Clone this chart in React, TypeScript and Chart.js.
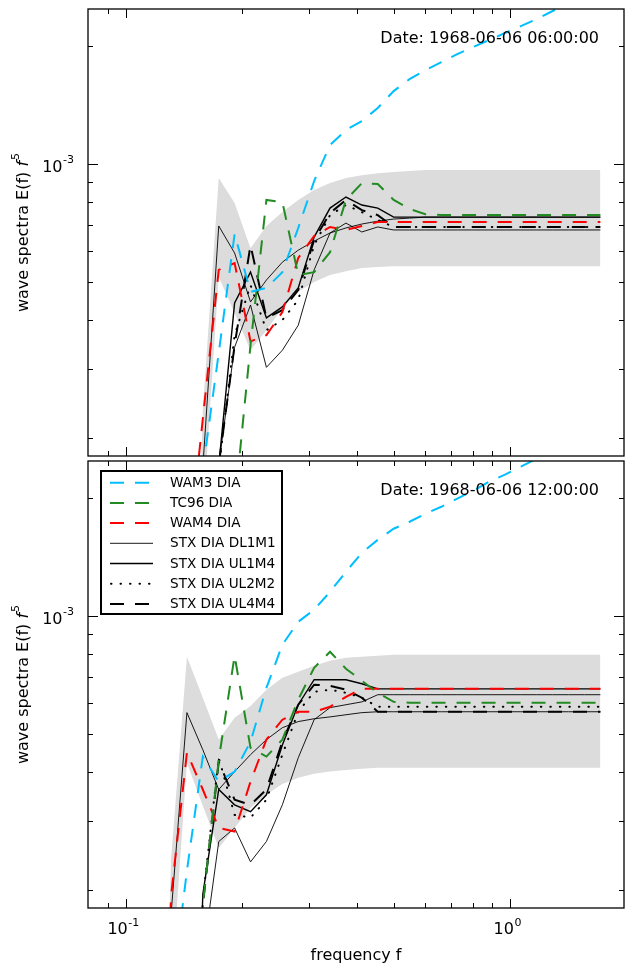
import React, { useEffect, useRef } from "react";
import { Chart, registerables } from "chart.js";

Chart.register(...registerables);

// All spectral values below are in units of 1e-3
const UNIT = 1e-3;

const frequencies = [0.1083, 0.1192, 0.1311, 0.1442, 0.1586, 0.1745, 0.1919, 0.2111, 0.2322, 0.2555,
  0.2810, 0.3091, 0.3400, 0.3740, 0.4114, 0.4526, 0.4978, 0.5476, 0.6024, 0.6626,
  0.7289, 0.8018, 0.8819, 0.9701, 1.0671, 1.1738, 1.2912, 1.4204, 1.5624, 1.7186];

// ---- 1968-06-06 06:00:00 ----
const wam3_06 = [0.01, 0.01, 0.01, 0.01, 0.166, 0.330, 0.663, 0.472, 0.483, 0.530, 0.687, 0.905, 1.118, 1.221, 1.287, 1.390, 1.535, 1.647, 1.737, 1.820, 1.908, 1.989, 2.072, 2.159, 2.249, 2.344, 2.457, 2.575, 2.698, 2.829];
const tc96_06 = [0.01, 0.01, 0.01, 0.01, 0.01, 0.01, 0.134, 0.345, 0.810, 0.800, 0.521, 0.530, 0.596, 0.810, 0.894, 0.889, 0.810, 0.768, 0.745, 0.741, 0.741, 0.741, 0.741, 0.741, 0.741, 0.741, 0.741, 0.741, 0.741, 0.741];
const wam4_06 = [0.01, 0.01, 0.01, 0.092, 0.224, 0.537, 0.559, 0.353, 0.366, 0.419, 0.576, 0.655, 0.691, 0.679, 0.695, 0.711, 0.711, 0.711, 0.711, 0.711, 0.711, 0.711, 0.711, 0.711, 0.711, 0.711, 0.711, 0.711, 0.711, 0.711];
const dl1m1_06 = [0.01, 0.01, 0.01, 0.01, 0.01, 0.171, 0.341, 0.437, 0.303, 0.335, 0.388, 0.537, 0.667, 0.707, 0.671, 0.691, 0.679, 0.679, 0.679, 0.679, 0.679, 0.679, 0.679, 0.679, 0.679, 0.679, 0.679, 0.679, 0.679, 0.679];
const ul1m4_06 = [0.01, 0.01, 0.01, 0.01, 0.01, 0.170, 0.442, 0.530, 0.405, 0.432, 0.483, 0.651, 0.772, 0.824, 0.786, 0.772, 0.732, 0.732, 0.732, 0.732, 0.732, 0.732, 0.732, 0.732, 0.732, 0.732, 0.732, 0.732, 0.732, 0.732];
const ul2m2_06 = [0.01, 0.01, 0.01, 0.01, 0.01, 0.166, 0.366, 0.491, 0.377, 0.400, 0.450, 0.621, 0.741, 0.786, 0.754, 0.720, 0.691, 0.691, 0.691, 0.691, 0.691, 0.691, 0.691, 0.691, 0.691, 0.691, 0.691, 0.691, 0.691, 0.691];
const ul4m4_06 = [0.01, 0.01, 0.01, 0.01, 0.01, 0.171, 0.345, 0.621, 0.405, 0.424, 0.477, 0.640, 0.750, 0.810, 0.763, 0.741, 0.691, 0.691, 0.691, 0.691, 0.691, 0.691, 0.691, 0.691, 0.691, 0.691, 0.691, 0.691, 0.691, 0.691];
const mean_06 = [0.01, 0.01, 0.01, 0.01, 0.168, 0.695, 0.593, 0.445, 0.506, 0.562, 0.603, 0.636, 0.667, 0.687, 0.703, 0.715, 0.724, 0.728, 0.732, 0.732, 0.732, 0.732, 0.732, 0.732, 0.732, 0.732, 0.732, 0.732, 0.732, 0.732];
const bandHi_06 = [0.01, 0.01, 0.01, 0.01, 0.236, 0.921, 0.795, 0.610, 0.695, 0.754, 0.810, 0.858, 0.894, 0.921, 0.937, 0.948, 0.954, 0.960, 0.965, 0.965, 0.965, 0.965, 0.965, 0.965, 0.965, 0.965, 0.965, 0.965, 0.965, 0.965];
const bandLo_06 = [0.01, 0.01, 0.01, 0.01, 0.125, 0.515, 0.417, 0.335, 0.377, 0.429, 0.472, 0.500, 0.521, 0.533, 0.543, 0.546, 0.549, 0.549, 0.549, 0.549, 0.549, 0.549, 0.549, 0.549, 0.549, 0.549, 0.549, 0.549, 0.549, 0.549];

// ---- 1968-06-06 12:00:00 ----
const wam3_12 = [0.01, 0.01, 0.105, 0.224, 0.438, 0.378, 0.401, 0.478, 0.656, 0.845, 0.967, 1.038, 1.153, 1.297, 1.450, 1.565, 1.670, 1.740, 1.824, 1.900, 1.992, 2.087, 2.201, 2.294, 2.404, 2.520, 2.641, 2.768, 2.900, 3.040];
const tc96_12 = [0.01, 0.01, 0.01, 0.01, 0.183, 0.430, 0.792, 0.461, 0.438, 0.484, 0.612, 0.738, 0.811, 0.734, 0.684, 0.637, 0.604, 0.601, 0.601, 0.601, 0.601, 0.601, 0.601, 0.601, 0.601, 0.601, 0.601, 0.601, 0.601, 0.601];
const wam4_12 = [0.01, 0.01, 0.193, 0.448, 0.361, 0.288, 0.282, 0.378, 0.484, 0.544, 0.570, 0.570, 0.587, 0.622, 0.652, 0.652, 0.652, 0.652, 0.652, 0.652, 0.652, 0.652, 0.652, 0.652, 0.652, 0.652, 0.652, 0.652, 0.652, 0.652];
const dl1m1_12 = [0.01, 0.01, 0.01, 0.01, 0.134, 0.266, 0.288, 0.236, 0.266, 0.330, 0.435, 0.544, 0.584, 0.594, 0.604, 0.630, 0.630, 0.630, 0.630, 0.630, 0.630, 0.630, 0.630, 0.630, 0.630, 0.630, 0.630, 0.630, 0.630, 0.630];
const ul1m4_12 = [0.01, 0.01, 0.01, 0.01, 0.195, 0.361, 0.330, 0.317, 0.350, 0.469, 0.594, 0.688, 0.688, 0.688, 0.672, 0.652, 0.652, 0.652, 0.652, 0.652, 0.652, 0.652, 0.652, 0.652, 0.652, 0.652, 0.652, 0.652, 0.652, 0.652];
const ul2m2_12 = [0.01, 0.01, 0.01, 0.01, 0.189, 0.435, 0.311, 0.306, 0.340, 0.443, 0.570, 0.641, 0.649, 0.637, 0.619, 0.587, 0.587, 0.587, 0.587, 0.587, 0.587, 0.587, 0.587, 0.587, 0.587, 0.587, 0.587, 0.587, 0.587, 0.587];
const ul4m4_12 = [0.01, 0.01, 0.01, 0.01, 0.183, 0.425, 0.340, 0.330, 0.361, 0.478, 0.594, 0.668, 0.664, 0.649, 0.619, 0.570, 0.570, 0.570, 0.570, 0.570, 0.570, 0.570, 0.570, 0.570, 0.570, 0.570, 0.570, 0.570, 0.570, 0.570];
const mean_12 = [0.01, 0.01, 0.173, 0.567, 0.456, 0.361, 0.401, 0.443, 0.484, 0.519, 0.538, 0.547, 0.553, 0.560, 0.567, 0.570, 0.570, 0.570, 0.570, 0.570, 0.570, 0.570, 0.570, 0.570, 0.570, 0.570, 0.570, 0.570, 0.570, 0.570];
const bandHi_12 = [0.01, 0.01, 0.239, 0.787, 0.619, 0.484, 0.550, 0.590, 0.649, 0.696, 0.721, 0.747, 0.769, 0.783, 0.787, 0.792, 0.797, 0.797, 0.797, 0.797, 0.797, 0.797, 0.797, 0.797, 0.797, 0.797, 0.797, 0.797, 0.797, 0.797];
const bandLo_12 = [0.01, 0.01, 0.111, 0.422, 0.328, 0.256, 0.288, 0.324, 0.350, 0.373, 0.387, 0.396, 0.401, 0.405, 0.408, 0.410, 0.410, 0.410, 0.410, 0.410, 0.410, 0.410, 0.410, 0.410, 0.410, 0.410, 0.410, 0.410, 0.410, 0.410];

const seriesLabels = ["WAM3 DIA", "TC96 DIA", "WAM4 DIA", "STX DIA DL1M1", "STX DIA UL1M4", "STX DIA UL2M2", "STX DIA UL4M4"];
const dates = ["Date: 1968-06-06 06:00:00", "Date: 1968-06-06 12:00:00"];

// axis ticks
const xMajorTicks = [0.1, 1];
const xMajorLabels = [["10", "-1"], ["10", "0"]];
const xMinorTicks = [0.09, 0.2, 0.3, 0.4, 0.5, 0.6, 0.7, 0.8, 0.9];
const yMajorTicks = [1e-3];
const yMajorLabels = [["10", "-3"]];
const yMinorTicks = [2e-4, 3e-4, 4e-4, 5e-4, 6e-4, 7e-4, 8e-4, 9e-4, 2e-3];
const X_MIN = 0.0797;
const X_MAX = 1.98;
const Y_MIN = 1.8e-4;
const Y_MAX = 2.486e-3;

const FONT = '"DejaVu Sans", "Liberation Sans", sans-serif';
const DASH = [14, 11];

const lineStyles = [
  { borderColor: "#00BFFF", borderWidth: 2, borderDash: DASH, borderCapStyle: "butt" },
  { borderColor: "#228B22", borderWidth: 2, borderDash: DASH, borderCapStyle: "butt" },
  { borderColor: "#FF0000", borderWidth: 2, borderDash: DASH, borderCapStyle: "butt" },
  { borderColor: "#000000", borderWidth: 0.9, borderDash: [], borderCapStyle: "butt" },
  { borderColor: "#000000", borderWidth: 1.4, borderDash: [], borderCapStyle: "butt" },
  { borderColor: "#000000", borderWidth: 2, borderDash: [0.5, 9], borderCapStyle: "round" },
  { borderColor: "#000000", borderWidth: 2, borderDash: DASH, borderCapStyle: "butt" },
];

const pts = (vals: number[]) => frequencies.map((f, i) => ({ x: f, y: vals[i] * UNIT }));

function buildDatasets(lines: number[][], mean: number[], hi: number[], lo: number[]) {
  const ds: any[] = lines.map((vals, k) => ({
    label: seriesLabels[k],
    data: pts(vals),
    ...lineStyles[k],
    pointRadius: 0,
    tension: 0,
    fill: false,
    showInLegend: true,
  }));
  ds.push({ label: "mean", data: pts(mean), borderColor: "#000", borderWidth: 0.9, pointRadius: 0, tension: 0, fill: false, order: 1 });
  ds.push({ label: "band hi", data: pts(hi), borderWidth: 0, borderColor: "rgba(0,0,0,0)", pointRadius: 0, tension: 0, fill: false, order: 100 });
  ds.push({ label: "band lo", data: pts(lo), borderWidth: 0, borderColor: "rgba(0,0,0,0)", backgroundColor: "#dcdcdc", pointRadius: 0, tension: 0, fill: "-1", order: 100 });
  return ds;
}

function drawSupLabel(ctx: CanvasRenderingContext2D, base: string, sup: string, x: number, y: number, align: "center" | "right") {
  ctx.font = `16px ${FONT}`;
  const wb = ctx.measureText(base).width;
  ctx.font = `11px ${FONT}`;
  const ws = ctx.measureText(sup).width;
  const total = wb + ws + 0.5;
  const x0 = align === "center" ? x - total / 2 : x - total;
  ctx.textAlign = "left";
  ctx.textBaseline = "alphabetic";
  ctx.font = `16px ${FONT}`;
  ctx.fillText(base, x0, y);
  ctx.font = `11px ${FONT}`;
  ctx.fillText(sup, x0 + wb + 0.5, y - 8.5);
}

function makeDecor(date: string, showX: boolean, showLegend: boolean, dateBaseline: number) {
  return {
    id: "decor",
    afterDatasetsDraw(chart: any) {
      if (!showLegend) return;
      const ctx: CanvasRenderingContext2D = chart.ctx;
      ctx.save();
      ctx.fillStyle = "#ffffff";
      ctx.fillRect(101, 13, 181, 143);
      ctx.lineWidth = 2;
      ctx.strokeStyle = "#000";
      ctx.setLineDash([]);
      ctx.strokeRect(101, 13, 181, 143);
      const items = chart.data.datasets.filter((d: any) => d.showInLegend);
      items.forEach((d: any, k: number) => {
        const y = 24.7 + k * 20.2;
        ctx.beginPath();
        ctx.setLineDash(d.borderDash || []);
        ctx.lineCap = d.borderCapStyle || "butt";
        ctx.lineWidth = d.borderWidth;
        ctx.strokeStyle = d.borderColor;
        ctx.moveTo(d.borderCapStyle === "round" ? 111 : 110, y);
        ctx.lineTo(153, y);
        ctx.stroke();
        ctx.setLineDash([]);
        ctx.lineCap = "butt";
        ctx.fillStyle = "#000";
        ctx.font = `13.6px ${FONT}`;
        ctx.textBaseline = "middle";
        ctx.textAlign = "left";
        ctx.fillText(d.label, 170, y + 0.5);
      });
      ctx.restore();
    },
    afterDraw(chart: any) {
      const ctx: CanvasRenderingContext2D = chart.ctx;
      const { left, right, top, bottom } = chart.chartArea;
      const xs = chart.scales.x;
      const ys = chart.scales.y;
      ctx.save();
      ctx.setLineDash([]);
      ctx.strokeStyle = "#000";
      ctx.lineWidth = 1;
      const tickX = (v: number, len: number) => {
        const px = Math.round(xs.getPixelForValue(v)) + 0.5;
        ctx.beginPath();
        ctx.moveTo(px, bottom); ctx.lineTo(px, bottom - len);
        ctx.moveTo(px, top); ctx.lineTo(px, top + len);
        ctx.stroke();
      };
      const tickY = (v: number, len: number) => {
        const py = Math.round(ys.getPixelForValue(v)) + 0.5;
        ctx.beginPath();
        ctx.moveTo(left, py); ctx.lineTo(left + len, py);
        ctx.moveTo(right, py); ctx.lineTo(right - len, py);
        ctx.stroke();
      };
      xMajorTicks.forEach((v) => tickX(v, 9));
      xMinorTicks.forEach((v) => tickX(v, 5));
      yMajorTicks.forEach((v) => tickY(v, 10));
      yMinorTicks.forEach((v) => tickY(v, 5));
      // frame
      ctx.lineWidth = 1.3;
      ctx.strokeRect(left, top, right - left, bottom - top);

      ctx.fillStyle = "#000";
      // y tick labels
      yMajorTicks.forEach((v, k) => {
        const py = ys.getPixelForValue(v);
        drawSupLabel(ctx, yMajorLabels[k][0], yMajorLabels[k][1], 74, py + 7.5, "right");
      });
      // x tick labels
      if (showX) {
        xMajorTicks.forEach((v, k) => {
          const px = xs.getPixelForValue(v);
          drawSupLabel(ctx, xMajorLabels[k][0], xMajorLabels[k][1], px - 2.5, bottom + 26, "center");
        });
        ctx.font = `16px ${FONT}`;
        ctx.textAlign = "center";
        ctx.textBaseline = "alphabetic";
        ctx.fillText("frequency f", (left + right) / 2, bottom + 52);
      }
      // y axis title
      ctx.save();
      const cy = (top + bottom) / 2;
      ctx.translate(27.5, cy);
      ctx.rotate(-Math.PI / 2);
      const part1 = "wave spectra E(f) ";
      ctx.font = `16px ${FONT}`;
      const w1 = ctx.measureText(part1).width;
      ctx.font = `oblique 16px ${FONT}`;
      const w2 = ctx.measureText("f").width;
      ctx.font = `11px ${FONT}`;
      const w3 = ctx.measureText("5").width;
      const tot = w1 + w2 + w3 + 1;
      let xx = -tot / 2;
      ctx.textAlign = "left";
      ctx.textBaseline = "alphabetic";
      ctx.font = `16px ${FONT}`;
      ctx.fillText(part1, xx, 0);
      xx += w1;
      ctx.font = `oblique 16px ${FONT}`;
      ctx.fillText("f", xx, 0);
      xx += w2 + 1;
      ctx.font = `11px ${FONT}`;
      ctx.fillText("5", xx, -8.5);
      ctx.restore();

      // date
      ctx.font = `16px ${FONT}`;
      ctx.textAlign = "right";
      ctx.textBaseline = "alphabetic";
      ctx.fillText(date, 599, dateBaseline);
      ctx.restore();
    },
  };
}

function makeConfig(datasets: any[], padding: any, plugin: any): any {
  return {
    type: "line",
    data: { datasets },
    options: {
      animation: false,
      responsive: false,
      devicePixelRatio: 1,
      parsing: true,
      layout: { padding },
      plugins: { legend: { display: false }, tooltip: { enabled: false } },
      events: [],
      scales: {
        x: { type: "logarithmic", min: X_MIN, max: X_MAX, display: false },
        y: { type: "logarithmic", min: Y_MIN, max: Y_MAX, display: false },
      },
    },
    plugins: [plugin],
  };
}

export default function App() {
  const topRef = useRef<HTMLCanvasElement>(null);
  const botRef = useRef<HTMLCanvasElement>(null);

  useEffect(() => {
    const c1 = new Chart(
      topRef.current as HTMLCanvasElement,
      makeConfig(
        buildDatasets([wam3_06, tc96_06, wam4_06, dl1m1_06, ul1m4_06, ul2m2_06, ul4m4_06], mean_06, bandHi_06, bandLo_06),
        { left: 88, right: 1, top: 9, bottom: 2 },
        makeDecor(dates[0], false, false, 43)
      )
    );
    const c2 = new Chart(
      botRef.current as HTMLCanvasElement,
      makeConfig(
        buildDatasets([wam3_12, tc96_12, wam4_12, dl1m1_12, ul1m4_12, ul2m2_12, ul4m4_12], mean_12, bandHi_12, bandLo_12),
        { left: 88, right: 1, top: 3, bottom: 57 },
        makeDecor(dates[1], true, true, 37)
      )
    );
    return () => {
      c1.destroy();
      c2.destroy();
    };
  }, []);

  return (
    <div style={{ position: "absolute", left: 0, top: 0, width: 625, height: 965, background: "#fff" }}>
      <canvas ref={topRef} width={625} height={458} style={{ position: "absolute", left: 0, top: 0, width: 625, height: 458 }} />
      <canvas ref={botRef} width={625} height={507} style={{ position: "absolute", left: 0, top: 458, width: 625, height: 507 }} />
    </div>
  );
}
